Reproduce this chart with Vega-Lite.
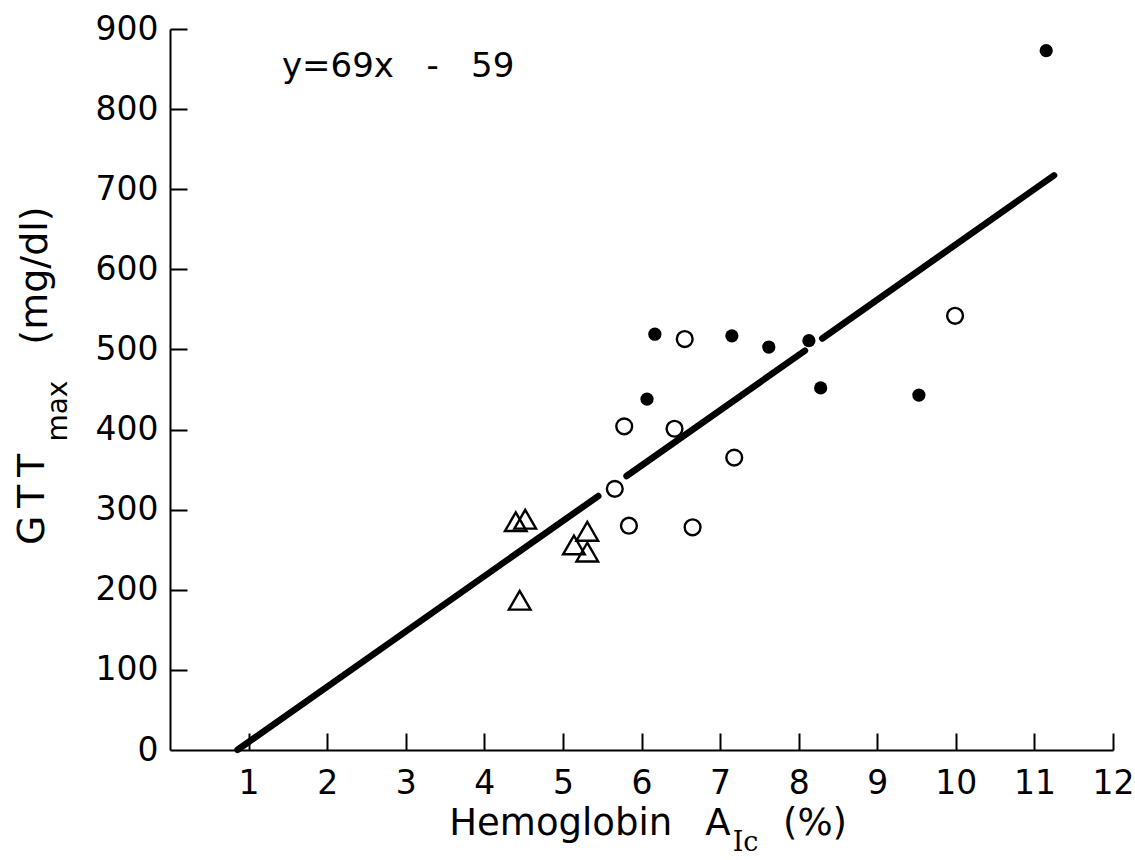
{
  "$schema": "https://vega.github.io/schema/vega-lite/v6.json",
  "width": 943,
  "height": 721,
  "autosize": {"type": "none"},
  "padding": {"left": 170, "top": 29, "right": 22, "bottom": 110},
  "background": "white",
  "config": {
    "view": {"stroke": null},
    "font": "DejaVu Sans",
    "axis": {
      "grid": false,
      "domainColor": "black",
      "domainWidth": 2,
      "tickColor": "black",
      "tickWidth": 2,
      "labelColor": "black",
      "labelFont": "DejaVu Sans",
      "labelFontSize": 33,
      "labelFlush": false,
      "labelOverlap": false,
      "labelBound": false
    }
  },
  "resolve": {"axis": {"x": "independent", "y": "independent"}},
  "datasets": {
    "points": [
      {"hba1c": 11.15, "gtt": 873, "group": "filled"},
      {"hba1c": 6.17, "gtt": 519, "group": "filled"},
      {"hba1c": 7.15, "gtt": 517, "group": "filled"},
      {"hba1c": 7.62, "gtt": 503, "group": "filled"},
      {"hba1c": 8.13, "gtt": 511, "group": "filled"},
      {"hba1c": 6.07, "gtt": 438, "group": "filled"},
      {"hba1c": 8.28, "gtt": 452, "group": "filled"},
      {"hba1c": 9.53, "gtt": 443, "group": "filled"},
      {"hba1c": 6.55, "gtt": 513, "group": "open"},
      {"hba1c": 9.99, "gtt": 542, "group": "open"},
      {"hba1c": 5.78, "gtt": 404, "group": "open"},
      {"hba1c": 6.42, "gtt": 401, "group": "open"},
      {"hba1c": 7.18, "gtt": 365, "group": "open"},
      {"hba1c": 5.66, "gtt": 326, "group": "open"},
      {"hba1c": 5.84, "gtt": 280, "group": "open"},
      {"hba1c": 6.65, "gtt": 278, "group": "open"},
      {"hba1c": 4.40, "gtt": 285, "group": "triangle"},
      {"hba1c": 4.52, "gtt": 288, "group": "triangle"},
      {"hba1c": 4.45, "gtt": 187, "group": "triangle"},
      {"hba1c": 5.31, "gtt": 273, "group": "triangle"},
      {"hba1c": 5.14, "gtt": 256, "group": "triangle"},
      {"hba1c": 5.31, "gtt": 247, "group": "triangle"}
    ],
    "fit": [
      {"hba1c": 0.86, "gtt": 0.3, "seg": 1},
      {"hba1c": 5.45, "gtt": 317, "seg": 1},
      {"hba1c": 5.81, "gtt": 342, "seg": 2},
      {"hba1c": 8.08, "gtt": 498.5, "seg": 2},
      {"hba1c": 8.30, "gtt": 513.7, "seg": 3},
      {"hba1c": 11.25, "gtt": 717.3, "seg": 3}
    ]
  },
  "layer": [
    {
      "data": {"name": "fit"},
      "mark": {"type": "line", "color": "black", "strokeWidth": 6.5, "strokeCap": "round"},
      "encoding": {
        "x": {
          "field": "hba1c", "type": "quantitative",
          "scale": {"domain": [0, 12], "nice": false, "zero": true},
          "axis": {"title": null, "values": [1,2,3,4,5,6,7,8,9,10,11,12], "format": "d", "ticks": false, "labelPadding": 17}
        },
        "y": {
          "field": "gtt", "type": "quantitative",
          "scale": {"domain": [0, 900], "nice": false},
          "axis": {"title": null, "values": [0,100,200,300,400,500,600,700,800,900], "format": "d", "ticks": false, "labelPadding": 12}
        },
        "detail": {"field": "seg"}
      }
    },
    {
      "data": {"name": "points"},
      "transform": [{"filter": "datum.group === 'filled'"}],
      "mark": {"type": "point", "shape": "circle", "filled": true, "color": "black", "size": 175, "opacity": 1},
      "encoding": {
        "x": {"field": "hba1c", "type": "quantitative",
          "axis": {"orient": "top", "offset": -721, "title": null, "values": [1,2,3,4,5,6,7,8,9,10,11,12], "labels": false, "domain": false, "ticks": true, "tickSize": 17}},
        "y": {"field": "gtt", "type": "quantitative",
          "axis": {"orient": "right", "offset": -943, "title": null, "values": [100,200,300,400,500,600,700,800,900], "labels": false, "domain": false, "ticks": true, "tickSize": 17}}
      }
    },
    {
      "data": {"name": "points"},
      "transform": [{"filter": "datum.group === 'open'"}],
      "mark": {"type": "point", "shape": "circle", "filled": false, "stroke": "black", "fill": "white", "fillOpacity": 0, "strokeWidth": 2.4, "size": 250, "opacity": 1},
      "encoding": {
        "x": {"field": "hba1c", "type": "quantitative", "axis": null},
        "y": {"field": "gtt", "type": "quantitative", "axis": null}
      }
    },
    {
      "data": {"name": "points"},
      "transform": [{"filter": "datum.group === 'triangle'"}],
      "mark": {"type": "point", "shape": "triangle-up", "filled": false, "stroke": "black", "strokeWidth": 2.4, "size": 470, "opacity": 1},
      "encoding": {
        "x": {"field": "hba1c", "type": "quantitative", "axis": null},
        "y": {"field": "gtt", "type": "quantitative", "axis": null}
      }
    },
    {
      "data": {"values": [{"hba1c": 1.425, "gtt": 840, "label": "y=69x\u00a0\u00a0\u00a0-\u00a0\u00a0\u00a059"}]},
      "mark": {"type": "text", "align": "left", "baseline": "alphabetic", "fontSize": 34, "color": "black"},
      "encoding": {
        "x": {"field": "hba1c", "type": "quantitative", "axis": null},
        "y": {"field": "gtt", "type": "quantitative", "axis": null},
        "text": {"field": "label"}
      }
    },
    {
      "data": {"values": [{"hba1c": 6.39, "gtt": -106, "label": "Hemoglobin"}]},
      "mark": {"type": "text", "align": "right", "baseline": "alphabetic", "fontSize": 37, "color": "black"},
      "encoding": {
        "x": {"field": "hba1c", "type": "quantitative", "axis": null},
        "y": {"field": "gtt", "type": "quantitative", "axis": null},
        "text": {"field": "label"}
      }
    },
    {
      "data": {"values": [{"hba1c": 6.81, "gtt": -106, "label": "A"}, {"hba1c": 7.80, "gtt": -106, "label": "(%)"}]},
      "mark": {"type": "text", "align": "left", "baseline": "alphabetic", "fontSize": 37, "color": "black"},
      "encoding": {
        "x": {"field": "hba1c", "type": "quantitative", "axis": null},
        "y": {"field": "gtt", "type": "quantitative", "axis": null},
        "text": {"field": "label"}
      }
    },
    {
      "data": {"values": [{"hba1c": 7.16, "gtt": -126, "label": "Ic"}]},
      "mark": {"type": "text", "align": "left", "baseline": "alphabetic", "fontSize": 27, "font": "DejaVu Serif", "color": "black"},
      "encoding": {
        "x": {"field": "hba1c", "type": "quantitative", "axis": null},
        "y": {"field": "gtt", "type": "quantitative", "axis": null},
        "text": {"field": "label"}
      }
    },
    {
      "data": {"values": [{"hba1c": -1.60, "gtt": 256, "label": "G\u2009T\u2009T"}, {"hba1c": -1.565, "gtt": 506, "label": "(mg/dl)"}]},
      "mark": {"type": "text", "align": "left", "baseline": "alphabetic", "angle": 270, "fontSize": 38, "color": "black"},
      "encoding": {
        "x": {"field": "hba1c", "type": "quantitative", "axis": null},
        "y": {"field": "gtt", "type": "quantitative", "axis": null},
        "text": {"field": "label"}
      }
    },
    {
      "data": {"values": [{"hba1c": -1.31, "gtt": 385, "label": "max"}]},
      "mark": {"type": "text", "align": "left", "baseline": "alphabetic", "angle": 270, "fontSize": 28, "color": "black"},
      "encoding": {
        "x": {"field": "hba1c", "type": "quantitative", "axis": null},
        "y": {"field": "gtt", "type": "quantitative", "axis": null},
        "text": {"field": "label"}
      }
    }
  ]
}
